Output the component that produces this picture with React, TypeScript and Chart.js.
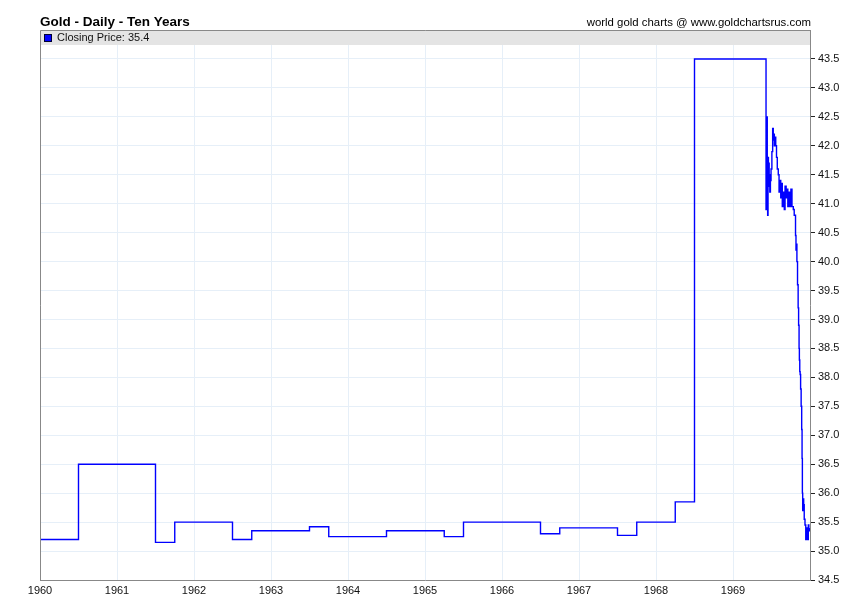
import React, { useEffect, useRef } from "react";
import { Chart, registerables } from "chart.js";

Chart.register(...registerables);

const TITLE = "Gold - Daily - Ten Years";
const CREDIT = "world gold charts @ www.goldchartsrus.com";
const LEGEND_LABEL = "Closing Price: 35.4";

// decimal year of each price change, and the price from that date on
const dates: number[] = [
  1960.0, 1960.5, 1961.5, 1961.75, 1962.5, 1962.75, 1963.5, 1963.75, 1964.5, 1965.25,
  1965.5, 1966.5, 1966.75, 1967.5, 1967.75, 1968.25, 1968.5,
  1969.429, 1969.437, 1969.441, 1969.445, 1969.450, 1969.455, 1969.460, 1969.464, 1969.470,
  1969.478, 1969.486, 1969.494, 1969.505, 1969.515, 1969.523, 1969.530, 1969.537, 1969.545,
  1969.555, 1969.565, 1969.575, 1969.588, 1969.598, 1969.610, 1969.620, 1969.630, 1969.640,
  1969.652, 1969.666, 1969.676, 1969.690, 1969.701, 1969.712, 1969.725, 1969.740, 1969.752,
  1969.766, 1969.783, 1969.795, 1969.805, 1969.812, 1969.818, 1969.824, 1969.830, 1969.838,
  1969.846, 1969.852, 1969.858, 1969.862, 1969.867, 1969.872, 1969.878, 1969.885, 1969.892,
  1969.897, 1969.901, 1969.905, 1969.910, 1969.918, 1969.925, 1969.935, 1969.945, 1969.955,
  1969.962, 1969.970, 1969.978, 1969.985, 1969.995,
];
const prices: number[] = [
  35.2, 36.5, 35.15, 35.5, 35.2, 35.35, 35.42, 35.25, 35.35, 35.25,
  35.5, 35.3, 35.4, 35.27, 35.5, 35.85, 43.5,
  40.9, 41.6, 42.5, 41.8, 40.8, 41.8, 41.3, 41.7, 41.5,
  41.2, 41.4, 41.6, 41.9, 42.3, 42.1, 42.2, 42.0, 42.15,
  42.0, 41.8, 41.6, 41.5, 41.2, 41.4, 41.1, 41.35, 40.95,
  41.2, 40.9, 41.3, 41.1, 41.25, 40.95, 41.2, 40.95, 41.25,
  40.95, 40.9, 40.8, 40.8, 40.45, 40.2, 40.3, 40.0, 39.6,
  39.2, 38.9, 38.5, 38.3, 38.1, 38.05, 37.8, 37.5, 37.1,
  36.6, 36.0, 35.7, 35.9, 35.8, 35.55, 35.45, 35.2, 35.4,
  35.25, 35.2, 35.45, 35.35, 35.4,
];

const X_MIN = 1960;
const X_MAX = 1970;
const Y_MIN = 34.5;
const Y_MAX = 44;

const FONT = "'Liberation Sans', Arial, sans-serif";

const overlay = {
  id: "overlay",
  afterDatasetsDraw(chart: any) {
    const { ctx, chartArea } = chart;
    const { left, right, top } = chartArea;
    ctx.save();
    // legend band
    ctx.fillStyle = "#e4e4e4";
    ctx.fillRect(left, top, right - left, 15);
    ctx.fillStyle = "#0000ff";
    ctx.fillRect(left + 4.5, top + 4.5, 7, 7);
    ctx.strokeStyle = "#000033";
    ctx.lineWidth = 1;
    ctx.strokeRect(left + 4.5, top + 4.5, 7, 7);
    ctx.fillStyle = "#111";
    ctx.font = `11px ${FONT}`;
    ctx.textBaseline = "middle";
    ctx.textAlign = "left";
    ctx.fillText(LEGEND_LABEL, left + 17, top + 8);
    // frame top and left
    ctx.strokeStyle = "#888";
    ctx.beginPath();
    ctx.moveTo(left + 0.5, chartArea.bottom);
    ctx.lineTo(left + 0.5, top + 0.5);
    ctx.lineTo(right, top + 0.5);
    ctx.stroke();
    // titles
    ctx.fillStyle = "#000";
    ctx.font = `bold 13.5px ${FONT}`;
    ctx.textBaseline = "alphabetic";
    ctx.fillText(TITLE, left, 26);
    ctx.font = `11.4px ${FONT}`;
    ctx.textAlign = "right";
    ctx.fillText(CREDIT, right + 1, 26);
    ctx.restore();
  },
};

export default function App() {
  const ref = useRef<HTMLCanvasElement>(null);
  useEffect(() => {
    document.body.style.margin = "0";
    const data = dates.map((d, i) => ({ x: d, y: prices[i] }));
    const chart = new Chart(ref.current as HTMLCanvasElement, {
      type: "line",
      data: {
        datasets: [
          {
            label: "Closing Price",
            data,
            borderColor: "#0000ff",
            borderWidth: 1.4,
            pointRadius: 0,
            stepped: "before",
            fill: false,
          },
        ],
      },
      options: {
        animation: false,
        responsive: false,
        layout: { padding: { left: 40, top: 30, right: 0, bottom: 0 } },
        plugins: { legend: { display: false }, tooltip: { enabled: false }, title: { display: false } },
        scales: {
          x: {
            type: "linear",
            min: X_MIN,
            max: X_MAX,
            afterFit: (s: any) => { s.height = 36; },
            border: { color: "#888", width: 1 },
            grid: { color: "#e6eff8", drawTicks: false },
            ticks: {
              stepSize: 1,
              padding: 4,
              color: "#111",
              font: { family: FONT, size: 11 },
              maxRotation: 0,
              autoSkip: false,
              callback: (v: any) => (v >= X_MAX ? "" : String(v)),
            },
          },
          y: {
            type: "linear",
            position: "right",
            min: Y_MIN,
            max: Y_MAX,
            afterFit: (s: any) => { s.width = 40; },
            border: { color: "#888", width: 1 },
            grid: {
              color: "#e6eff8",
              tickColor: (c: any) => (c.tick && c.tick.value >= Y_MAX ? "rgba(0,0,0,0)" : "#222"),
              tickLength: 5,
            },
            ticks: {
              stepSize: 0.5,
              padding: 3,
              color: "#111",
              font: { family: FONT, size: 11 },
              autoSkip: false,
              callback: (v: any) => (v >= Y_MAX ? "" : Number(v).toFixed(1)),
            },
          },
        },
      },
      plugins: [overlay],
    });
    return () => chart.destroy();
  }, []);
  return <canvas ref={ref} width={850} height={616} style={{ display: "block" }} />;
}
